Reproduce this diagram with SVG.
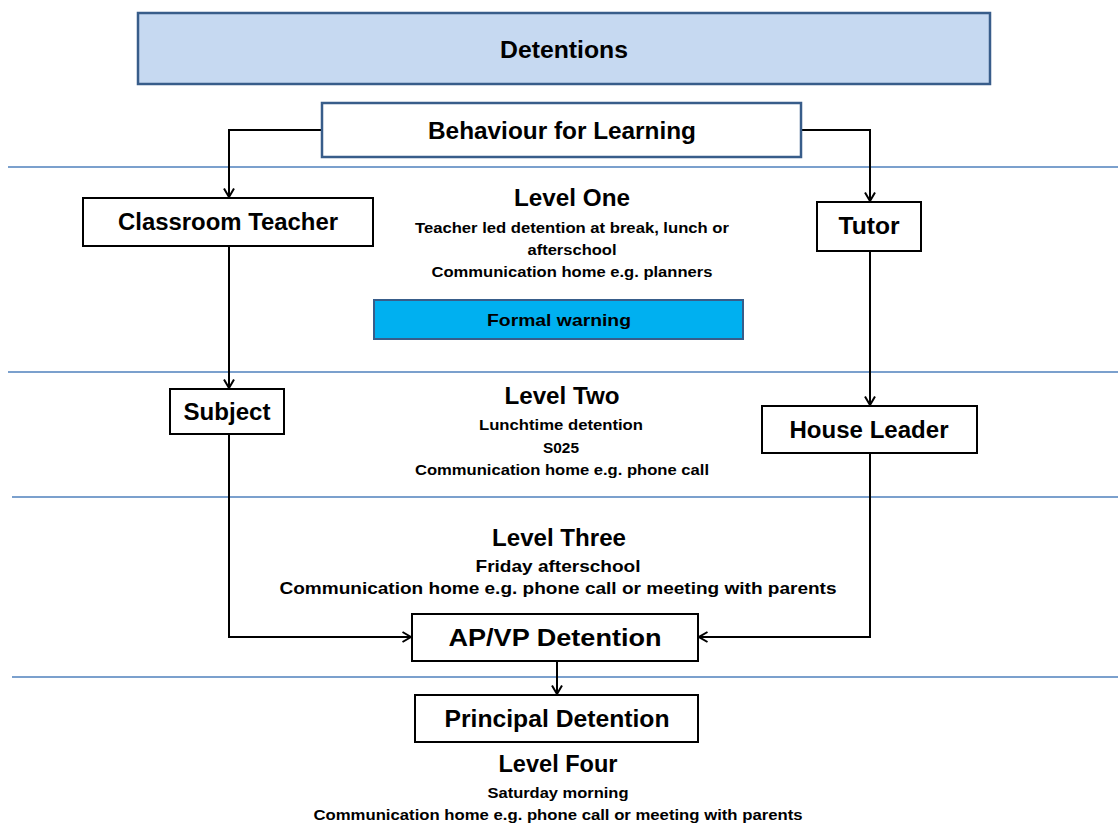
<svg xmlns="http://www.w3.org/2000/svg" width="1118" height="823" viewBox="0 0 1118 823">
<style>
.t{font-family:"Liberation Sans",Arial,sans-serif;font-weight:bold;fill:#000;text-anchor:middle}
.big{font-size:23px}
.sm{font-size:15.5px}
.box{fill:#fff;stroke:#000;stroke-width:2}
.sep{stroke:#4f81bd;stroke-width:1.3;fill:none}
.con{stroke:#000;stroke-width:2;fill:none}
</style>
<defs>
<marker id="arr" viewBox="0 0 10 12" refX="9.5" refY="6" markerWidth="10" markerHeight="12" markerUnits="userSpaceOnUse" orient="auto">
<path d="M1,1 L9.5,6 L1,11" fill="none" stroke="#000" stroke-width="2"/>
</marker>
</defs>
<rect width="1118" height="823" fill="#fff"/>
<g id="separators">
<line class="sep" x1="8" y1="167" x2="1118" y2="167"/>
<line class="sep" x1="8" y1="372" x2="1118" y2="372"/>
<line class="sep" x1="12" y1="497" x2="1118" y2="497"/>
<line class="sep" x1="12" y1="677" x2="1118" y2="677"/>
</g>
<g id="connectors">
<path class="con" d="M322,130 H229 V197" marker-end="url(#arr)"/>
<path class="con" d="M801,130 H870 V201" marker-end="url(#arr)"/>
<path class="con" d="M229,246 V388" marker-end="url(#arr)"/>
<path class="con" d="M870,251 V405" marker-end="url(#arr)"/>
<path class="con" d="M229,434 V637 H411" marker-end="url(#arr)"/>
<path class="con" d="M870,453 V637 H699" marker-end="url(#arr)"/>
<path class="con" d="M557,661 V694" marker-end="url(#arr)"/>
</g>
<g id="detentions">
<rect x="138" y="13" width="852" height="71" fill="#c6d9f1" stroke="#385d8a" stroke-width="2.5"/>
<text class="t big" x="564" y="58" textLength="128" lengthAdjust="spacingAndGlyphs">Detentions</text>
</g>
<g id="bfl">
<rect x="322" y="103" width="479" height="54" fill="#fff" stroke="#385d8a" stroke-width="2.5"/>
<text class="t big" x="562" y="139" textLength="268" lengthAdjust="spacingAndGlyphs">Behaviour for Learning</text>
</g>
<g id="classroom-teacher">
<rect class="box" x="83" y="198" width="290" height="48"/>
<text class="t big" x="228" y="230" textLength="220" lengthAdjust="spacingAndGlyphs">Classroom Teacher</text>
</g>
<g id="tutor">
<rect class="box" x="817" y="202" width="104" height="49"/>
<text class="t big" x="869" y="234" textLength="61" lengthAdjust="spacingAndGlyphs">Tutor</text>
</g>
<g id="level-one">
<text class="t big" x="572" y="206" textLength="116" lengthAdjust="spacingAndGlyphs">Level One</text>
<text class="t sm" x="572" y="233" textLength="314" lengthAdjust="spacingAndGlyphs">Teacher led detention at break, lunch or</text>
<text class="t sm" x="572" y="255" textLength="89" lengthAdjust="spacingAndGlyphs">afterschool</text>
<text class="t sm" x="572" y="277" textLength="281" lengthAdjust="spacingAndGlyphs">Communication home e.g. planners</text>
</g>
<g id="formal-warning">
<rect x="374" y="300" width="369" height="39" fill="#00b0f0" stroke="#385d8a" stroke-width="2"/>
<text class="t" style="font-size:16.5px" x="559" y="326" textLength="144" lengthAdjust="spacingAndGlyphs">Formal warning</text>
</g>
<g id="subject">
<rect class="box" x="170" y="389" width="114" height="45"/>
<text class="t big" x="227" y="420" textLength="87" lengthAdjust="spacingAndGlyphs">Subject</text>
</g>
<g id="house-leader">
<rect class="box" x="762" y="406" width="215" height="47"/>
<text class="t big" x="869" y="438" textLength="159" lengthAdjust="spacingAndGlyphs">House Leader</text>
</g>
<g id="level-two">
<text class="t big" x="562" y="404" textLength="115" lengthAdjust="spacingAndGlyphs">Level Two</text>
<text class="t sm" x="561" y="430" textLength="164" lengthAdjust="spacingAndGlyphs">Lunchtime detention</text>
<text class="t sm" x="561" y="453" textLength="36" lengthAdjust="spacingAndGlyphs">S025</text>
<text class="t sm" x="562" y="475" textLength="294" lengthAdjust="spacingAndGlyphs">Communication home e.g. phone call</text>
</g>
<g id="level-three">
<text class="t big" x="559" y="546" textLength="134" lengthAdjust="spacingAndGlyphs">Level Three</text>
<text class="t" style="font-size:17px" x="558" y="572" textLength="165" lengthAdjust="spacingAndGlyphs">Friday afterschool</text>
<text class="t" style="font-size:17px" x="558" y="594" textLength="557" lengthAdjust="spacingAndGlyphs">Communication home e.g. phone call or meeting with parents</text>
</g>
<g id="apvp">
<rect class="box" x="412" y="614" width="286" height="47"/>
<text class="t big" x="555" y="646" textLength="213" lengthAdjust="spacingAndGlyphs">AP/VP Detention</text>
</g>
<g id="principal">
<rect class="box" x="415" y="695" width="283" height="47"/>
<text class="t big" x="557" y="727" textLength="225" lengthAdjust="spacingAndGlyphs">Principal Detention</text>
</g>
<g id="level-four">
<text class="t big" x="558" y="772" textLength="119" lengthAdjust="spacingAndGlyphs">Level Four</text>
<text class="t sm" x="558" y="798" textLength="141" lengthAdjust="spacingAndGlyphs">Saturday morning</text>
<text class="t sm" x="558" y="820" textLength="489" lengthAdjust="spacingAndGlyphs">Communication home e.g. phone call or meeting with parents</text>
</g>
</svg>
